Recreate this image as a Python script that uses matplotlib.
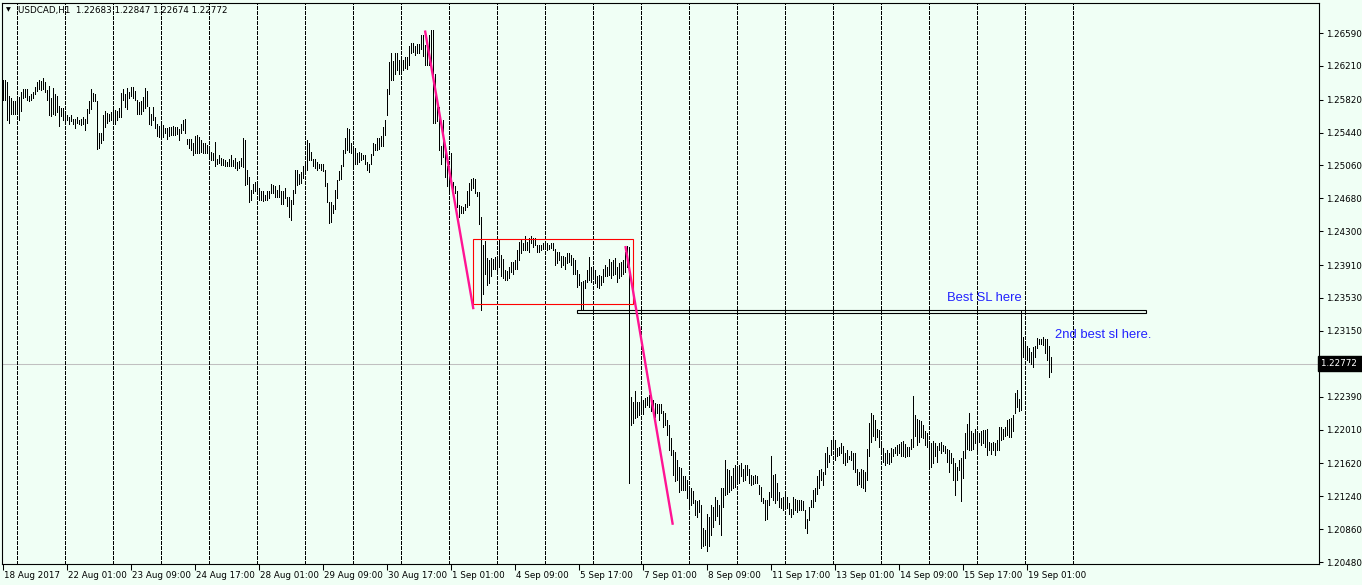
import numpy as np
import matplotlib.pyplot as plt
import matplotlib.transforms as mtransforms
from matplotlib.patches import Rectangle

# USDCAD H1 bars, high / low (one bar = one hour)
bar_high = [
    1.2605, 1.2605, 1.2602, 1.2586, 1.2584, 1.2580, 1.2580, 1.2585, 1.2585, 1.2591,
    1.2594, 1.2594, 1.2594, 1.2586, 1.2589, 1.2591, 1.2597, 1.2602, 1.2605, 1.2604,
    1.2607, 1.2603, 1.2593, 1.2598, 1.2584, 1.2595, 1.2589, 1.2586, 1.2575, 1.2572,
    1.2572, 1.2566, 1.2564, 1.2562, 1.2564, 1.2560, 1.2560, 1.2562, 1.2559, 1.2560,
    1.2562, 1.2560, 1.2571, 1.2581, 1.2594, 1.2590, 1.2589, 1.2580, 1.2543, 1.2543,
    1.2564, 1.2569, 1.2567, 1.2565, 1.2568, 1.2570, 1.2570, 1.2569, 1.2572, 1.2590,
    1.2594, 1.2589, 1.2596, 1.2591, 1.2597, 1.2597, 1.2592, 1.2582, 1.2579, 1.2581,
    1.2585, 1.2595, 1.2592, 1.2574, 1.2566, 1.2573, 1.2562, 1.2554, 1.2552, 1.2553,
    1.2553, 1.2549, 1.2549, 1.2550, 1.2551, 1.2552, 1.2551, 1.2550, 1.2548, 1.2554,
    1.2559, 1.2560, 1.2537, 1.2537, 1.2537, 1.2532, 1.2540, 1.2541, 1.2539, 1.2536,
    1.2532, 1.2532, 1.2530, 1.2528, 1.2522, 1.2521, 1.2533, 1.2514, 1.2518, 1.2515,
    1.2513, 1.2512, 1.2510, 1.2513, 1.2518, 1.2512, 1.2515, 1.2510, 1.2511, 1.2515,
    1.2538, 1.2535, 1.2501, 1.2493, 1.2478, 1.2485, 1.2487, 1.2487, 1.2480, 1.2476,
    1.2476, 1.2472, 1.2476, 1.2477, 1.2485,
    1.2483, 1.2482, 1.2478, 1.2483, 1.2477, 1.2476, 1.2480, 1.2470, 1.2470, 1.2466,
    1.2478, 1.2501, 1.2501, 1.2496, 1.2498, 1.2505, 1.2509, 1.2535, 1.2532, 1.2522,
    1.2513, 1.2513, 1.2510, 1.2508, 1.2508, 1.2508, 1.2501, 1.2486, 1.2464, 1.2464,
    1.2460, 1.2478, 1.2489, 1.2500, 1.2507, 1.2524, 1.2538, 1.2549, 1.2548, 1.2532,
    1.2528, 1.2526, 1.2520, 1.2522, 1.2520, 1.2518, 1.2518, 1.2510, 1.2508, 1.2519,
    1.2532, 1.2531, 1.2538, 1.2538, 1.2540, 1.2550, 1.2559, 1.2594, 1.2625, 1.2636,
    1.2627, 1.2636, 1.2636, 1.2628, 1.2632, 1.2628, 1.2631, 1.2631, 1.2644, 1.2648,
    1.2647, 1.2644, 1.2646, 1.2646, 1.2657, 1.2657, 1.2645, 1.2641, 1.2657, 1.2662,
    1.2662, 1.2612, 1.2574, 1.2574, 1.2528, 1.2559, 1.2530, 1.2505, 1.2493, 1.2520,
    1.2487, 1.2482, 1.2476, 1.2460, 1.2459, 1.2458, 1.2462, 1.2476, 1.2486, 1.2490,
    1.2491, 1.2490, 1.2475, 1.2475, 1.2447, 1.2414, 1.2419, 1.2399, 1.2397, 1.2399,
    1.2398, 1.2400, 1.2397, 1.2420, 1.2403, 1.2398, 1.2385, 1.2384, 1.2389, 1.2394,
    1.2394, 1.2397, 1.2408, 1.2418, 1.2420, 1.2417, 1.2425, 1.2418, 1.2422, 1.2424,
    1.2422, 1.2422, 1.2414, 1.2414, 1.2414, 1.2416, 1.2415, 1.2416, 1.2414, 1.2417,
    1.2416, 1.2410, 1.2406, 1.2406, 1.2401, 1.2401, 1.2400, 1.2405, 1.2405, 1.2403,
    1.2399, 1.2397, 1.2385, 1.2381, 1.2372, 1.2373, 1.2374, 1.2385, 1.2400, 1.2389,
    1.2389, 1.2385, 1.2378, 1.2379, 1.2378, 1.2387, 1.2391, 1.2389, 1.2398, 1.2395,
    1.2397, 1.2399, 1.2389, 1.2393, 1.2395, 1.2397, 1.2406, 1.2413, 1.2412, 1.2239,
    1.2233, 1.2245, 1.2233, 1.2233, 1.2235, 1.2235, 1.2237, 1.2239, 1.2241, 1.2241,
    1.2235, 1.2232, 1.2231, 1.2231, 1.2231, 1.2222, 1.2220, 1.2212, 1.2206, 1.2191,
    1.2177, 1.2175, 1.2166, 1.2158, 1.2157, 1.2147, 1.2147, 1.2143, 1.2135, 1.2133,
    1.2130, 1.2120, 1.2118, 1.2120, 1.2114, 1.2087, 1.2085, 1.2104, 1.2100, 1.2114,
    1.2112, 1.2123, 1.2120, 1.2114, 1.2133, 1.2133, 1.2166, 1.2156, 1.2154, 1.2147,
    1.2157, 1.2160, 1.2159, 1.2160, 1.2162, 1.2156, 1.2160, 1.2160, 1.2156, 1.2148,
    1.2147, 1.2148, 1.2147, 1.2137, 1.2135, 1.2122, 1.2120, 1.2120, 1.2129, 1.2170,
    1.2148, 1.2150, 1.2139, 1.2129, 1.2122, 1.2123, 1.2125, 1.2123, 1.2116, 1.2109,
    1.2123, 1.2121, 1.2120, 1.2120, 1.2120, 1.2118, 1.2108, 1.2098, 1.2112, 1.2120,
    1.2131, 1.2134, 1.2147, 1.2154, 1.2155, 1.2152, 1.2174, 1.2181, 1.2172, 1.2189,
    1.2190, 1.2189, 1.2180, 1.2181, 1.2185, 1.2182, 1.2174, 1.2177, 1.2170, 1.2176,
    1.2174, 1.2174, 1.2155, 1.2152, 1.2156, 1.2154, 1.2152, 1.2179, 1.2209, 1.2220,
    1.2218, 1.2212, 1.2202, 1.2200, 1.2185, 1.2180, 1.2174, 1.2177, 1.2174, 1.2180,
    1.2179, 1.2181, 1.2183, 1.2184, 1.2187, 1.2188, 1.2184, 1.2181, 1.2181, 1.2190,
    1.2240, 1.2218, 1.2213, 1.2212, 1.2211, 1.2206, 1.2199, 1.2197, 1.2187, 1.2185,
    1.2188, 1.2185, 1.2182, 1.2186, 1.2187, 1.2183, 1.2182, 1.2179, 1.2177, 1.2174,
    1.2168, 1.2162, 1.2158, 1.2166, 1.2168, 1.2176, 1.2197, 1.2207, 1.2220, 1.2199,
    1.2197, 1.2202, 1.2199, 1.2197, 1.2199, 1.2201, 1.2200, 1.2202, 1.2187, 1.2186,
    1.2187, 1.2185, 1.2189, 1.2204, 1.2204, 1.2202, 1.2204, 1.2212, 1.2213, 1.2214,
    1.2218, 1.2243, 1.2247, 1.2236, 1.2338, 1.2308, 1.2302, 1.2297, 1.2295, 1.2291,
    1.2296, 1.2297, 1.2307, 1.2306, 1.2306, 1.2308, 1.2306, 1.2306, 1.2297, 1.2285,
]
bar_low = [
    1.2582, 1.2582, 1.2559, 1.2555, 1.2565, 1.2566, 1.2566, 1.2567, 1.2559, 1.2569,
    1.2584, 1.2585, 1.2582, 1.2580, 1.2582, 1.2584, 1.2589, 1.2592, 1.2594, 1.2593,
    1.2594, 1.2591, 1.2582, 1.2564, 1.2563, 1.2566, 1.2564, 1.2568, 1.2552, 1.2563,
    1.2559, 1.2554, 1.2558, 1.2554, 1.2557, 1.2554, 1.2549, 1.2555, 1.2554, 1.2553,
    1.2554, 1.2547, 1.2555, 1.2567, 1.2571, 1.2581, 1.2580, 1.2525, 1.2526, 1.2532,
    1.2535, 1.2550, 1.2555, 1.2557, 1.2558, 1.2559, 1.2554, 1.2559, 1.2562, 1.2562,
    1.2582, 1.2573, 1.2571, 1.2584, 1.2586, 1.2584, 1.2582, 1.2566, 1.2566, 1.2566,
    1.2569, 1.2572, 1.2575, 1.2554, 1.2553, 1.2558, 1.2549, 1.2540, 1.2539, 1.2540,
    1.2539, 1.2543, 1.2537, 1.2540, 1.2541, 1.2541, 1.2541, 1.2542, 1.2536, 1.2543,
    1.2547, 1.2544, 1.2531, 1.2526, 1.2524, 1.2518, 1.2520, 1.2520, 1.2521, 1.2522,
    1.2521, 1.2520, 1.2520, 1.2514, 1.2512, 1.2512, 1.2505, 1.2508, 1.2509, 1.2507,
    1.2507, 1.2505, 1.2505, 1.2505, 1.2505, 1.2505, 1.2503, 1.2501, 1.2503, 1.2505,
    1.2504, 1.2483, 1.2485, 1.2464, 1.2466, 1.2474, 1.2477, 1.2473, 1.2466, 1.2466,
    1.2465, 1.2466, 1.2466, 1.2469, 1.2474,
    1.2474, 1.2470, 1.2470, 1.2470, 1.2461, 1.2462, 1.2468, 1.2459, 1.2447, 1.2443,
    1.2462, 1.2474, 1.2483, 1.2485, 1.2486, 1.2491, 1.2497, 1.2501, 1.2512, 1.2512,
    1.2505, 1.2503, 1.2501, 1.2503, 1.2501, 1.2500, 1.2482, 1.2464, 1.2440, 1.2441,
    1.2451, 1.2456, 1.2468, 1.2489, 1.2490, 1.2505, 1.2521, 1.2524, 1.2522, 1.2520,
    1.2507, 1.2508, 1.2508, 1.2510, 1.2512, 1.2513, 1.2508, 1.2501, 1.2499, 1.2508,
    1.2518, 1.2524, 1.2524, 1.2525, 1.2528, 1.2528, 1.2541, 1.2564, 1.2589, 1.2605,
    1.2605, 1.2612, 1.2616, 1.2612, 1.2614, 1.2616, 1.2619, 1.2617, 1.2622, 1.2636,
    1.2637, 1.2634, 1.2636, 1.2636, 1.2641, 1.2632, 1.2622, 1.2622, 1.2622, 1.2624,
    1.2555, 1.2555, 1.2557, 1.2524, 1.2508, 1.2516, 1.2493, 1.2482, 1.2476, 1.2482,
    1.2476, 1.2474, 1.2458, 1.2447, 1.2451, 1.2451, 1.2455, 1.2458, 1.2460, 1.2478,
    1.2480, 1.2474, 1.2471, 1.2439, 1.2339, 1.2358, 1.2381, 1.2368, 1.2370, 1.2378,
    1.2387, 1.2387, 1.2381, 1.2389, 1.2378, 1.2376, 1.2374, 1.2374, 1.2376, 1.2383,
    1.2381, 1.2386, 1.2387, 1.2397, 1.2405, 1.2408, 1.2408, 1.2408, 1.2406, 1.2416,
    1.2412, 1.2414, 1.2406, 1.2406, 1.2408, 1.2409, 1.2410, 1.2408, 1.2409, 1.2411,
    1.2408, 1.2391, 1.2393, 1.2397, 1.2389, 1.2391, 1.2387, 1.2393, 1.2395, 1.2391,
    1.2381, 1.2381, 1.2366, 1.2368, 1.2340, 1.2339, 1.2364, 1.2372, 1.2374, 1.2372,
    1.2376, 1.2370, 1.2366, 1.2364, 1.2368, 1.2372, 1.2378, 1.2378, 1.2379, 1.2376,
    1.2379, 1.2381, 1.2372, 1.2376, 1.2378, 1.2381, 1.2383, 1.2389, 1.2139, 1.2206,
    1.2208, 1.2214, 1.2216, 1.2218, 1.2220, 1.2219, 1.2227, 1.2229, 1.2227, 1.2222,
    1.2227, 1.2216, 1.2220, 1.2212, 1.2220, 1.2204, 1.2206, 1.2195, 1.2177, 1.2172,
    1.2148, 1.2141, 1.2143, 1.2129, 1.2131, 1.2131, 1.2131, 1.2122, 1.2110, 1.2114,
    1.2116, 1.2102, 1.2100, 1.2106, 1.2064, 1.2066, 1.2068, 1.2061, 1.2066, 1.2079,
    1.2089, 1.2097, 1.2101, 1.2092, 1.2079, 1.2112, 1.2125, 1.2127, 1.2129, 1.2131,
    1.2133, 1.2135, 1.2141, 1.2139, 1.2147, 1.2141, 1.2143, 1.2148, 1.2139, 1.2137,
    1.2138, 1.2139, 1.2139, 1.2127, 1.2118, 1.2116, 1.2097, 1.2098, 1.2114, 1.2123,
    1.2120, 1.2116, 1.2120, 1.2112, 1.2110, 1.2108, 1.2114, 1.2110, 1.2104, 1.2100,
    1.2104, 1.2108, 1.2106, 1.2108, 1.2108, 1.2108, 1.2087, 1.2082, 1.2096, 1.2112,
    1.2112, 1.2118, 1.2127, 1.2133, 1.2143, 1.2137, 1.2150, 1.2158, 1.2163, 1.2172,
    1.2179, 1.2166, 1.2170, 1.2172, 1.2174, 1.2162, 1.2160, 1.2164, 1.2167, 1.2166,
    1.2155, 1.2152, 1.2137, 1.2138, 1.2135, 1.2133, 1.2130, 1.2143, 1.2170, 1.2187,
    1.2194, 1.2189, 1.2192, 1.2181, 1.2174, 1.2164, 1.2160, 1.2162, 1.2161, 1.2164,
    1.2170, 1.2174, 1.2172, 1.2174, 1.2170, 1.2170, 1.2169, 1.2170, 1.2170, 1.2179,
    1.2181, 1.2193, 1.2183, 1.2187, 1.2192, 1.2191, 1.2183, 1.2181, 1.2156, 1.2158,
    1.2162, 1.2170, 1.2164, 1.2177, 1.2174, 1.2176, 1.2174, 1.2164, 1.2152, 1.2162,
    1.2143, 1.2125, 1.2143, 1.2154, 1.2118, 1.2145, 1.2168, 1.2179, 1.2177, 1.2177,
    1.2179, 1.2185, 1.2177, 1.2187, 1.2183, 1.2185, 1.2181, 1.2172, 1.2177, 1.2173,
    1.2177, 1.2172, 1.2177, 1.2177, 1.2189, 1.2190, 1.2193, 1.2195, 1.2192, 1.2192,
    1.2199, 1.2220, 1.2227, 1.2222, 1.2224, 1.2285, 1.2283, 1.2281, 1.2279, 1.2277,
    1.2273, 1.2285, 1.2295, 1.2300, 1.2300, 1.2299, 1.2289, 1.2281, 1.2262, 1.2267,
]

date_labels = ['18 Aug 2017', '22 Aug 01:00', '23 Aug 09:00', '24 Aug 17:00',
               '28 Aug 01:00', '29 Aug 09:00', '30 Aug 17:00', '1 Sep 01:00',
               '4 Sep 09:00', '5 Sep 17:00', '7 Sep 01:00', '8 Sep 09:00',
               '11 Sep 17:00', '13 Sep 01:00', '14 Sep 09:00', '15 Sep 17:00',
               '19 Sep 01:00']
price_ticks = [1.26590, 1.26210, 1.25820, 1.25440, 1.25060, 1.24680, 1.24300,
               1.23910, 1.23530, 1.23150, 1.22390, 1.22010, 1.21620, 1.21240,
               1.20860, 1.20480]
last_price = 1.22772
header = 'USDCAD,H1  1.22683 1.22847 1.22674 1.22772'

# drawn objects (bar index, price)
trend_1 = [(211.0, 1.2662), (235.2, 1.2340)]
trend_2 = [(311.2, 1.2413), (334.9, 1.2091)]
range_box = [(235.2, 1.23457), (315.2, 1.24207)]
sl_box = [(287.2, 1.23356), (571.4, 1.23391)]
note_best = (472, 1.2353, 'Best SL here')
note_second = (526, 1.2310, '2nd best sl here.')

BG = '#F0FFF5'
AX_FONT = 6.3

fig = plt.figure(figsize=(13.62, 5.85), dpi=100, facecolor=BG)
ax = fig.add_axes([2 / 1362, 21 / 585, 1317 / 1362, 561 / 585])
ax.set_facecolor(BG)
ax.set_xlim(-0.5, 658)
ax.set_ylim(1.20457, 1.26937)

idx = np.arange(len(bar_high))

# daily separators
grid_bars = np.arange(7, 536, 24)
ax.vlines(grid_bars, 1.20457, 1.26937, colors='black', linewidth=0.72,
          linestyles=(0, (3, 2)), antialiased=False, zorder=1)

ax.axhline(last_price, color='#C0C0C0', linewidth=0.75, zorder=0.5)

ax.vlines(idx, bar_low, bar_high, colors='black', linewidth=0.45,
          antialiased=False, zorder=2)

pink = '#FF1493'
for seg in (trend_1, trend_2):
    ax.plot([seg[0][0], seg[1][0]], [seg[0][1], seg[1][1]], color=pink,
            linewidth=1.7, solid_capstyle='butt', zorder=4)

(x0, y0), (x1, y1) = range_box
ax.add_patch(Rectangle((x0, y0), x1 - x0, y1 - y0, fill=False,
                       edgecolor='red', linewidth=0.8, zorder=3))
(x0, y0), (x1, y1) = sl_box
ax.add_patch(Rectangle((x0, y0), x1 - x0, y1 - y0, fill=False,
                       edgecolor='black', linewidth=0.8, zorder=3,
                       clip_on=False))

for nx, ny, txt in (note_best, note_second):
    ax.text(nx, ny, txt, color='#2222FF', fontsize=9.4,
            family='Liberation Sans', va='center', ha='left', zorder=5)

# axes look
for s in ax.spines.values():
    s.set_color('black')
    s.set_linewidth(0.8)

ax.yaxis.tick_right()
ax.set_yticks(price_ticks)
ax.set_yticklabels([f'{v:.5f}' for v in price_ticks])
ax.tick_params(axis='y', direction='out', length=3, width=0.75, pad=2,
               labelsize=AX_FONT, colors='black')

ax.set_xticks(np.arange(len(date_labels)) * 32)
ax.set_xticklabels(date_labels, ha='left')
ax.tick_params(axis='x', direction='out', length=4, width=0.75, pad=1.0,
               labelsize=AX_FONT, colors='black')
shift = mtransforms.ScaledTranslation(1.5 / 100, 0, fig.dpi_scale_trans)
for lbl in ax.get_xticklabels():
    lbl.set_transform(lbl.get_transform() + shift)

trans = mtransforms.blended_transform_factory(ax.transAxes, ax.transData)
ax.text(1.0015, last_price, '1.22772 ', transform=trans, color='white',
        fontsize=AX_FONT, va='center', ha='left', zorder=6, clip_on=False,
        bbox=dict(boxstyle='square,pad=0.3', facecolor='black',
                  edgecolor='black'))

fig.text(6 / 1362, 1 - 10 / 585, '\u25bc', fontsize=4.5, va='center',
         ha='left', color='black')
fig.text(18 / 1362, 1 - 10 / 585, header, fontsize=AX_FONT, va='center',
         ha='left', color='black')

fig.savefig('out.png', dpi=100, facecolor=BG)
